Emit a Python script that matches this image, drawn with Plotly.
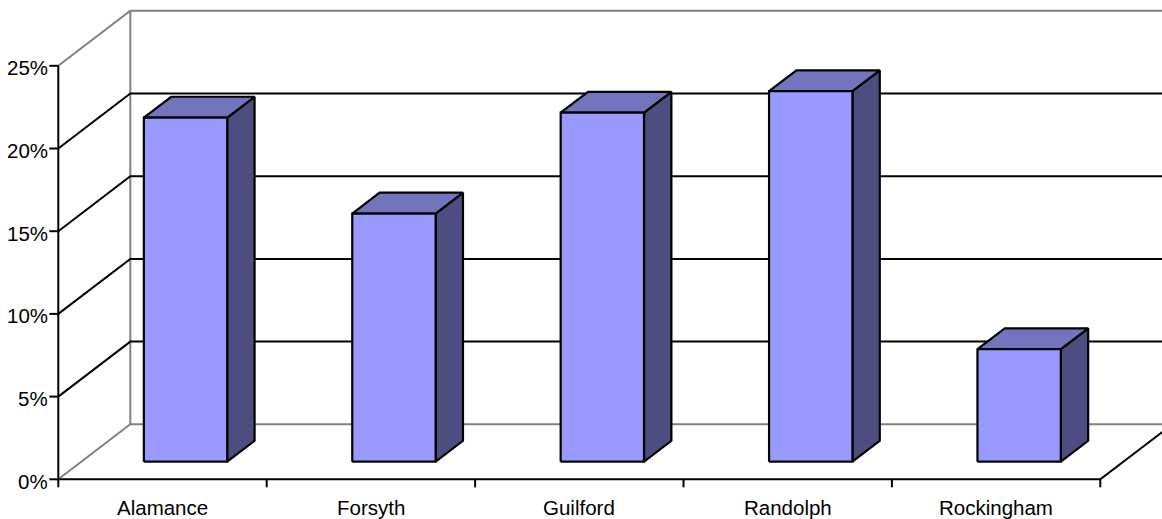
import plotly.graph_objects as go

# ---- data -------------------------------------------------------------
categories = ["Alamance", "Forsyth", "Guilford", "Randolph", "Rockingham"]
shares = [20.8, 15.0, 21.1, 22.4, 6.8]          # percent
y_ticks = [0, 5, 10, 15, 20, 25]
y_tick_labels = ["0%", "5%", "10%", "15%", "20%", "25%"]

# ---- geometry of the oblique 3-D projection ----------------------------
W, H = 1162, 519
PX0, PX_PER_CAT = 58.3, 208.4      # left edge of front plane, px per category
PY0, PX_PER_PCT = 479.3, 16.54     # 0% line of front plane, px per percent
DEPTH_PX = (72.0, 55.0)            # shift of the back wall (right, up) in px

DX = DEPTH_PX[0] / PX_PER_CAT
DY = DEPTH_PX[1] / PX_PER_PCT
N = len(categories)
VMAX = y_ticks[-1]

BAR_W = 0.400                      # bar width in category units
BAR_D0, BAR_D1 = 0.32, 0.70        # bar depth span (0 = front, 1 = back wall)

FRONT = "#9999FF"
TOP = "#7474BE"
SIDE = "#4D4D80"
GREY = "#808080"


def proj(x, v, d):
    return x + d * DX, v + d * DY


fig = go.Figure()


def add_path(pts, color, width, fill=None):
    xs, ys = zip(*[proj(*p) for p in pts])
    fig.add_trace(go.Scatter(
        x=list(xs), y=list(ys), mode="lines",
        line=dict(color=color, width=width),
        fill="toself" if fill else None,
        fillcolor=fill,
        hoverinfo="skip", showlegend=False,
    ))


# walls and floor outline
add_path([(0, VMAX, 0), (0, VMAX, 1), (N, VMAX, 1)], GREY, 2)     # top edges
add_path([(0, 0, 1), (0, VMAX, 1)], GREY, 2)                      # back wall left edge
add_path([(0, 0, 0), (0, 0, 1), (N, 0, 1)], GREY, 2)              # floor back edges

# gridlines on left wall and back wall
for t in y_ticks[1:-1]:
    add_path([(0, t, 0), (0, t, 1), (N, t, 1)], "black", 2)

# floor front edge, right floor edge and value axis
add_path([(N, 0, 1), (N, 0, 0), (0, 0, 0), (0, VMAX, 0)], "black", 2)

# tick marks
tick_len_x = 9 / PX_PER_CAT
tick_len_y = 8 / PX_PER_PCT
for t in y_ticks:
    add_path([(-tick_len_x, t, 0), (0, t, 0)], "black", 2)
for i in range(N + 1):
    add_path([(i, 0, 0), (i, -tick_len_y, 0)], "black", 2)

# bars
for i, v in enumerate(shares):
    x0 = i + 0.5 - BAR_W / 2
    x1 = i + 0.5 + BAR_W / 2
    add_path([(x1, 0, BAR_D0), (x1, 0, BAR_D1), (x1, v, BAR_D1),
              (x1, v, BAR_D0), (x1, 0, BAR_D0)], "black", 2.2, SIDE)
    add_path([(x0, v, BAR_D0), (x1, v, BAR_D0), (x1, v, BAR_D1),
              (x0, v, BAR_D1), (x0, v, BAR_D0)], "black", 2.2, TOP)
    add_path([(x0, 0, BAR_D0), (x1, 0, BAR_D0), (x1, v, BAR_D0),
              (x0, v, BAR_D0), (x0, 0, BAR_D0)], "black", 2.2, FRONT)

FONT = dict(family="Liberation Sans, Arial, sans-serif", size=20.5, color="black")

annotations = []
for t, lab in zip(y_ticks, y_tick_labels):
    annotations.append(dict(
        x=0, y=t, xref="x", yref="y", text=lab, showarrow=False,
        xanchor="right", yanchor="middle", xshift=-8, yshift=-2, font=FONT,
    ))
for i, cat in enumerate(categories):
    annotations.append(dict(
        x=i + 0.5, y=0, xref="x", yref="y", text=cat, showarrow=False,
        xanchor="center", yanchor="middle", yshift=-28, font=FONT,
    ))

fig.update_layout(
    width=W, height=H, autosize=False,
    margin=dict(l=0, r=0, t=0, b=0, pad=0),
    paper_bgcolor="white", plot_bgcolor="white",
    xaxis=dict(range=[-PX0 / PX_PER_CAT, (W - PX0) / PX_PER_CAT],
               visible=False, fixedrange=True),
    yaxis=dict(range=[(PY0 - H) / PX_PER_PCT, PY0 / PX_PER_PCT],
               visible=False, fixedrange=True),
    annotations=annotations,
    showlegend=False,
)

fig.write_html("out.html", config={"displayModeBar": False})
